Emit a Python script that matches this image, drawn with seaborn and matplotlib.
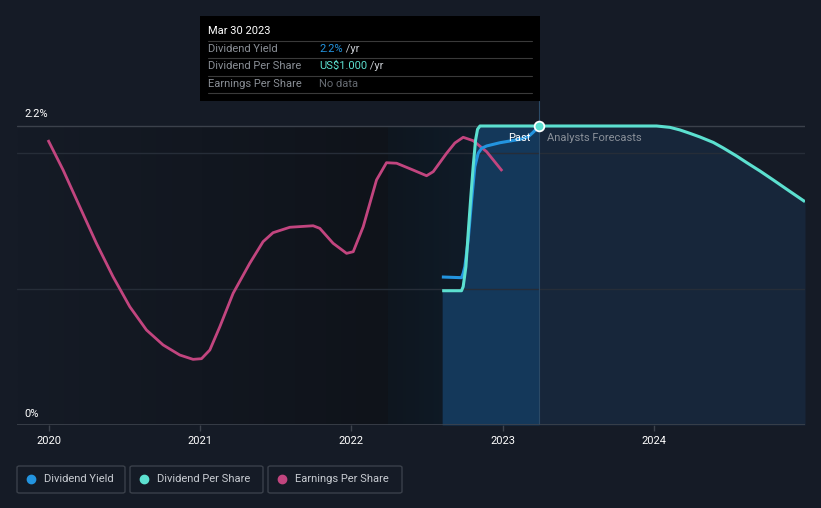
import numpy as np
import pandas as pd
import matplotlib
matplotlib.use("Agg")
import matplotlib.pyplot as plt
import seaborn as sns
from matplotlib.lines import Line2D
from matplotlib.patches import Rectangle, FancyBboxPatch
from matplotlib.colors import LinearSegmentedColormap

# ---------------- data ----------------
eps_x = [2019.995, 2020.095, 2020.205, 2020.315, 2020.425, 2020.536, 2020.646, 2020.756,
         2020.866, 2020.954, 2021.010, 2021.065, 2021.131, 2021.219, 2021.329, 2021.417,
         2021.483, 2021.594, 2021.748, 2021.792, 2021.880, 2021.969, 2022.013, 2022.079,
         2022.167, 2022.233, 2022.300, 2022.409, 2022.498, 2022.542, 2022.630, 2022.685,
         2022.740, 2022.806, 2022.895, 2022.998]
eps_y = [2.097, 1.876, 1.606, 1.337, 1.091, 0.870, 0.699, 0.589,
         0.515, 0.483, 0.488, 0.552, 0.723, 0.969, 1.190, 1.349,
         1.415, 1.455, 1.466, 1.447, 1.337, 1.263, 1.275, 1.459,
         1.803, 1.930, 1.926, 1.876, 1.834, 1.864, 1.999, 2.075,
         2.117, 2.092, 2.011, 1.869]

dps_x = [2022.601, 2022.729, 2022.740, 2022.758, 2022.773, 2022.789, 2022.806, 2022.822,
         2022.835, 2022.851, 2023.243, 2024.019, 2024.107, 2024.173, 2024.239, 2024.306,
         2024.394, 2024.460, 2024.548, 2024.614, 2024.702, 2024.790, 2024.901, 2025.0]
dps_y = [0.988, 0.988, 1.018, 1.165, 1.410, 1.656, 1.901, 2.097,
         2.176, 2.2, 2.2, 2.2, 2.190, 2.171, 2.146, 2.119,
         2.079, 2.038, 1.979, 1.931, 1.869, 1.803, 1.718, 1.643]

yld_x = [2022.599, 2022.729, 2022.740, 2022.751, 2022.773, 2022.796, 2022.817, 2022.839,
         2022.862, 2022.895, 2022.983, 2023.115, 2023.170, 2023.203, 2023.243]
yld_y = [1.089, 1.084, 1.116, 1.165, 1.361, 1.656, 1.901, 1.999,
         2.036, 2.053, 2.077, 2.102, 2.121, 2.154, 2.2]

years = [2020, 2021, 2022, 2023, 2024]
year_labels = ["2020", "2021", "2022", "2023", "2024"]
now_x = 2023.243
past_start = 2022.242

legend_names = ["Dividend Yield", "Dividend Per Share", "Earnings Per Share"]
tooltip_date = "Mar 30 2023"
tooltip_rows = [("Dividend Yield", "2.2%", " /yr"),
                ("Dividend Per Share", "US$1.000", " /yr"),
                ("Earnings Per Share", "No data", "")]

# ---------------- style ----------------
BG = "#151b26"
C_YLD = "#2394df"
C_DPS = "#5ce0d0"
C_EPS = "#c2457f"

sns.set_theme(style="dark")
plt.rcParams["font.family"] = ["Roboto", "DejaVu Sans"]

W, H = 821, 508
fig = plt.figure(figsize=(W / 100, H / 100), dpi=100, facecolor=BG)

def fx(px):
    return px / W

def fy(py):
    return 1 - py / H

ax_left, ax_right, ax_top, ax_bot = 17, 805, 101, 425
ax = fig.add_axes([fx(ax_left), fy(ax_bot), fx(ax_right - ax_left), (ax_bot - ax_top) / H])
ax.set_facecolor(BG)
xmin, xmax = 2019.79, 2025.0
ymin = 0
ymax = 2.2 * (ax_bot - ax_top) / (ax_bot - 126)

# background gradients
grad = np.linspace(0, 1, 256).reshape(1, -1)
cm_left = LinearSegmentedColormap.from_list("l", ["#151b26", "#0f131a"])
ax.imshow(grad, extent=[xmin, past_start, 0, 2.2], aspect="auto", cmap=cm_left, zorder=0)
cm_past = LinearSegmentedColormap.from_list("p", ["#0e161f", "#112030"])
ax.imshow(grad, extent=[past_start, now_x, 0, 2.2], aspect="auto", cmap=cm_past, zorder=0)
ax.set_xlim(xmin, xmax)
ax.set_ylim(ymin, ymax)

# fills under DPS
dx = np.array(dps_x)
dy = np.array(dps_y)
m_past = dx <= now_x
m_fut = dx >= now_x
ax.fill_between(dx[m_past], 0, dy[m_past], color="#14385a", zorder=1, linewidth=0)
ax.fill_between(dx[m_fut], 0, dy[m_fut], color="#17263a", zorder=1, linewidth=0)

# grid lines
for gy, c in [(2.2, "#3b414b"), (2.0, "#262d38"), (1.0, "#262d38")]:
    ax.axhline(gy, color=c, lw=1, zorder=2)
ax.axhline(0, color="#3d434d", lw=1.2, zorder=5)

# vertical "now" line
ax.axvline(now_x, color="#2b4a66", lw=0.8, zorder=2)

df_eps = pd.DataFrame({"x": eps_x, "y": eps_y})
df_dps = pd.DataFrame({"x": dps_x, "y": dps_y})
df_yld = pd.DataFrame({"x": yld_x, "y": yld_y})

kw = dict(sort=False, zorder=4, solid_joinstyle="round", solid_capstyle="butt")
sns.lineplot(data=df_eps, x="x", y="y", ax=ax, color=C_EPS, lw=2.0, **kw)
sns.lineplot(data=df_yld, x="x", y="y", ax=ax, color=C_YLD, lw=2.2, **kw)
sns.lineplot(data=df_dps, x="x", y="y", ax=ax, color=C_DPS, lw=2.2, **kw)
ax.plot([now_x], [2.2], marker="o", ms=7, mfc=C_DPS, mec="white", mew=1.3, zorder=6)

ax.text(now_x - 0.055, 2.11, "Past", color="white", fontsize=8, ha="right", va="center", zorder=7)
ax.text(now_x + 0.05, 2.11, "Analysts Forecasts", color="#8a9099", fontsize=8, ha="left", va="center", zorder=7)

# axes styling
ax.set_xlabel("")
ax.set_ylabel("")
ax.set_yticks([])
ax.set_xticks(years)
ax.set_xticklabels(year_labels, color="white", fontsize=8)
ax.tick_params(axis="x", length=4, color="#3d434d", width=1, pad=4, bottom=True)
for s in ax.spines.values():
    s.set_visible(False)
ax.grid(False)

# y labels
fig.text(fx(24), fy(114), "2.2%", color="white", fontsize=8, va="center", ha="left")
fig.text(fx(24), fy(414), "0%", color="white", fontsize=8, va="center", ha="left")

# tooltip
fig.patches.append(Rectangle((fx(200), fy(101)), fx(340), (101 - 16) / H,
                             transform=fig.transFigure, facecolor="black", edgecolor="none", zorder=10))
fig.text(fx(208), fy(31), tooltip_date, color="white", fontsize=8, va="center", ha="left", zorder=11)
row_y = [49, 66, 84]
sep_y = [41, 58, 76, 93]
for sy in sep_y:
    fig.add_artist(Line2D([fx(208), fx(532)], [fy(sy), fy(sy)], transform=fig.transFigure,
                          color="#3a3a3a", lw=0.8, zorder=11))
val_colors = [C_YLD, C_DPS, "#666b72"]
for (lab, val, unit), ry, vc in zip(tooltip_rows, row_y, val_colors):
    fig.text(fx(208), fy(ry), lab, color="#8a8f96", fontsize=8, va="center", ha="left", zorder=11)
    t = fig.text(fx(319), fy(ry), val, color=vc, fontsize=8, va="center", ha="left", zorder=11)
    if unit:
        fig.canvas.draw()
        bb = t.get_window_extent()
        fig.text(bb.x1 / W, fy(ry), unit, color="#c8ccd2", fontsize=8, va="center", ha="left", zorder=11)

# legend boxes
boxes = [(17, 125), (130, 263), (268, 402)]
cols = [C_YLD, C_DPS, C_EPS]
for (bx0, bx1), name, c in zip(boxes, legend_names, cols):
    fig.patches.append(FancyBboxPatch((fx(bx0), fy(493)), fx(bx1 - bx0), 27 / H,
                                      boxstyle="round,pad=0,rounding_size=0.003",
                                      transform=fig.transFigure, facecolor=BG,
                                      edgecolor="#3a404a", lw=1))
    fig.add_artist(Line2D([fx(bx0 + 14)], [fy(479)], transform=fig.transFigure, marker="o",
                          ms=6, mfc=c, mec=c, lw=0))
    fig.text(fx(bx0 + 27), fy(479), name, color="#c8ccd2", fontsize=8, va="center", ha="left")

fig.savefig("out.png", dpi=100, facecolor=BG)
